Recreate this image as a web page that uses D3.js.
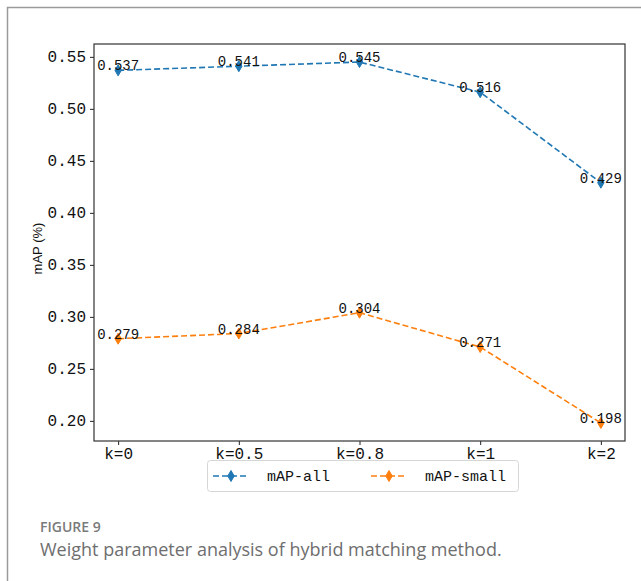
<!DOCTYPE html>
<html>
<head>
  <script src="https://cdn.jsdelivr.net/npm/d3@7"></script>
  <style>
    body { margin: 0; background: #fff; }
  </style>
</head>
<body>
  <div id="chart"></div>
</body>
<script>
  // data
  const categories = ["k=0", "k=0.5", "k=0.8", "k=1", "k=2"];
  const mapAll = [0.537, 0.541, 0.545, 0.516, 0.429];
  const mapSmall = [0.279, 0.284, 0.304, 0.271, 0.198];
  const yTicks = [0.20, 0.25, 0.30, 0.35, 0.40, 0.45, 0.50, 0.55];
  const seriesNames = ["mAP-all", "mAP-small"];
  const colors = ["#1f77b4", "#ff7f0e"];

  const W = 641, H = 581;
  const margin = {top: 44, right: 16, bottom: 140, left: 94},
        width = W - margin.left - margin.right,
        height = H - margin.top - margin.bottom;

  const monoFont = "'Liberation Mono', 'DejaVu Sans Mono', monospace";

  const root = d3.select("#chart").append("svg")
      .attr("width", W).attr("height", H);

  // outer frame of the figure panel
  root.append("rect")
      .attr("x", 7.5).attr("y", 7.5)
      .attr("width", W).attr("height", H)
      .attr("fill", "none").attr("stroke", "#9a9a9a").attr("stroke-width", 1.5);

  const svg = root.append("g")
      .attr("transform", "translate(" + margin.left + "," + margin.top + ")");

  // scales (matplotlib-like 5% margins)
  const x = d3.scaleLinear()
    .domain([-0.2, categories.length - 1 + 0.2])
    .range([0, width]);
  const allVals = mapAll.concat(mapSmall);
  const lo = d3.min(allVals), hi = d3.max(allVals), pad = (hi - lo) * 0.05;
  const y = d3.scaleLinear()
    .domain([lo - pad, hi + pad])
    .range([height, 0]);

  // axes
  const xAxis = svg.append("g")
    .attr("transform", "translate(0," + height + ")")
    .call(d3.axisBottom(x).tickValues(d3.range(categories.length))
      .tickFormat(i => categories[i]).tickSizeOuter(0).tickSize(4).tickPadding(3));
  const yAxis = svg.append("g")
    .call(d3.axisLeft(y).tickValues(yTicks)
      .tickFormat(d3.format(".2f")).tickSizeOuter(0).tickSize(4).tickPadding(4));
  [xAxis, yAxis].forEach(a => {
    a.select(".domain").remove();
    a.selectAll(".tick line").attr("stroke", "#222");
    a.selectAll(".tick text").attr("fill", "#111")
      .style("font-family", monoFont).style("font-size", "16px");
  });

  // plot frame
  svg.append("rect")
    .attr("width", width).attr("height", height)
    .attr("fill", "none").attr("stroke", "#333").attr("stroke-width", 1.2);

  // y label
  svg.append("text")
    .attr("transform", "translate(-52," + (height / 2 + 6) + ") rotate(-90)")
    .attr("text-anchor", "middle")
    .style("font-family", "'Liberation Sans', Arial, sans-serif")
    .style("font-size", "13px")
    .attr("fill", "#111")
    .text("mAP (%)");

  const diamond = "M0,-5.5L3.2,0L0,5.5L-3.2,0Z";
  const line = d3.line().x((d, i) => x(i)).y(d => y(d));

  [mapAll, mapSmall].forEach((vals, s) => {
    svg.append("path")
      .datum(vals)
      .attr("d", line)
      .attr("fill", "none")
      .attr("stroke", colors[s])
      .attr("stroke-width", 1.6)
      .attr("stroke-dasharray", "6,3");
    svg.selectAll(null).data(vals).enter().append("path")
      .attr("d", diamond)
      .attr("transform", (d, i) => "translate(" + x(i) + "," + y(d) + ")")
      .attr("fill", colors[s]).attr("stroke", colors[s]).attr("stroke-width", 1);
    svg.selectAll(null).data(vals).enter().append("text")
      .attr("x", (d, i) => x(i))
      .attr("y", d => y(d))
      .attr("text-anchor", "middle")
      .style("font-family", monoFont).style("font-size", "14px")
      .attr("fill", "#111")
      .text(d => d.toFixed(3));
  });

  // legend
  const leg = root.append("g").attr("transform", "translate(207,460)");
  leg.append("rect")
    .attr("x", 0.5).attr("y", 0.5).attr("width", 311).attr("height", 31).attr("rx", 3)
    .attr("fill", "#fff").attr("stroke", "#d6d6d6");
  const legX = [6, 164];
  seriesNames.forEach((name, s) => {
    const g = leg.append("g").attr("transform", "translate(" + legX[s] + ",16)");
    g.append("line").attr("x1", 0).attr("x2", 36)
      .attr("stroke", colors[s]).attr("stroke-width", 1.6).attr("stroke-dasharray", "6,3");
    g.append("path").attr("d", diamond).attr("transform", "translate(18,0)")
      .attr("fill", colors[s]).attr("stroke", colors[s]);
    g.append("text").attr("x", 54).attr("y", 5)
      .style("font-family", monoFont).style("font-size", "15px")
      .attr("fill", "#111").text(name);
  });

  // caption
  root.append("text").attr("x", 40).attr("y", 532)
    .style("font-family", "'Open Sans', sans-serif").style("font-size", "14px")
    .style("font-weight", "600").attr("fill", "#7a7a7a").text("FIGURE 9");
  root.append("text").attr("x", 40).attr("y", 556)
    .style("font-family", "'Open Sans', sans-serif").style("font-size", "18px")
    .attr("fill", "#6e6e6e").text("Weight parameter analysis of hybrid matching method.");
</script>
</html>
